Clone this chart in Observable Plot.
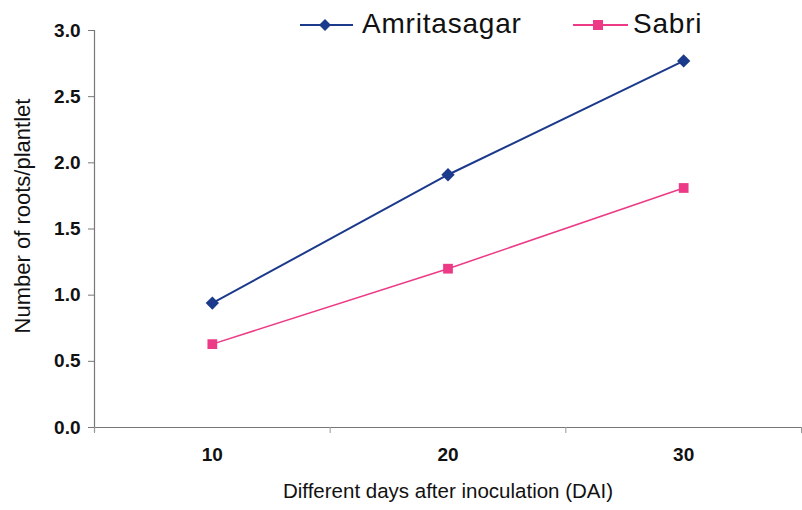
<!DOCTYPE html>
<html>
<head>
<meta charset="utf-8">
<script src="https://cdn.jsdelivr.net/npm/d3@7"></script>
<script src="https://cdn.jsdelivr.net/npm/@observablehq/plot@0.6"></script>
<style>
  html, body { margin: 0; padding: 0; background: #fff; }
  #wrap { position: relative; width: 802px; height: 510px; font-family: "Liberation Sans", Arial, sans-serif; }
  #legend { position: absolute; top: 0; left: 0; pointer-events: none; }
</style>
</head>
<body>
<div id="wrap">
  <div id="chart"></div>
  <svg id="legend" width="802" height="50"></svg>
</div>
<script>
const days = [10, 20, 30];
const seriesNames = ["Amritasagar", "Sabri"];
const amritasagar = [0.94, 1.91, 2.77];
const sabri = [0.63, 1.20, 1.81];
const yTicks = [0, 0.5, 1.0, 1.5, 2.0, 2.5, 3.0];
const xBoundaries = [5, 15, 25, 35];
const colors = {Amritasagar: "#1c3a8c", Sabri: "#ec3a86"};

const data = [];
days.forEach((d, i) => {
  data.push({day: d, value: amritasagar[i], series: "Amritasagar"});
  data.push({day: d, value: sabri[i], series: "Sabri"});
});

const font = "Liberation Sans, Arial, sans-serif";

const chart = Plot.plot({
  width: 802,
  height: 510,
  marginLeft: 94,
  marginRight: 1,
  marginTop: 30,
  marginBottom: 83,
  style: {fontFamily: font, fontSize: "16px", color: "#111", background: "#fff"},
  x: {type: "linear", domain: [5, 35]},
  y: {domain: [0, 3]},
  marks: [
    Plot.ruleY([0], {stroke: "#777", strokeWidth: 1.2}),
    Plot.ruleX([5], {y1: -0.04, y2: 3, stroke: "#777", strokeWidth: 1.2}),
    Plot.axisY({ticks: yTicks, tickFormat: d => d.toFixed(1), tickSize: 6, tickPadding: 8, stroke: "#777", fontSize: 19, fontWeight: "bold", label: null}),
    Plot.axisX({ticks: xBoundaries, tickFormat: () => "", tickSize: 6, stroke: "#999", label: null}),
    Plot.axisX({ticks: days, tickSize: 0, tickPadding: 20, fontSize: 19, fontWeight: "bold", label: null}),
    Plot.text(["Number of roots/plantlet"], {frameAnchor: "left", textAnchor: "middle", dx: -72, dy: -13, rotate: -90, fontSize: 22, fill: "#111"}),
    Plot.text(["Different days after inoculation (DAI)"], {frameAnchor: "bottom", dy: 70, fontSize: 20.5, fill: "#111"}),
    Plot.line(data.filter(d => d.series === "Sabri"), {x: "day", y: "value", stroke: colors.Sabri, strokeWidth: 1.5}),
    Plot.line(data.filter(d => d.series === "Amritasagar"), {x: "day", y: "value", stroke: colors.Amritasagar, strokeWidth: 2}),
    Plot.dot(data.filter(d => d.series === "Sabri"), {x: "day", y: "value", symbol: "square", r: 5.5, fill: colors.Sabri, stroke: "none"}),
    Plot.dot(data.filter(d => d.series === "Amritasagar"), {x: "day", y: "value", symbol: "diamond2", r: 6, fill: colors.Amritasagar, stroke: "none"})
  ]
});
document.getElementById("chart").appendChild(chart);

// Legend (overlapping top of plot, as in the reference)
const lg = d3.select("#legend");
const legendItems = [
  {name: seriesNames[0], x1: 300, x2: 353, mx: 325, tx: 362},
  {name: seriesNames[1], x1: 573, x2: 628, mx: 598, tx: 633}
];
legendItems.forEach(it => {
  const c = colors[it.name];
  lg.append("line").attr("x1", it.x1).attr("x2", it.x2).attr("y1", 25).attr("y2", 25)
    .attr("stroke", c).attr("stroke-width", 2);
  if (it.name === "Amritasagar") {
    lg.append("path").attr("d", `M${it.mx},${19} L${it.mx + 6},${25} L${it.mx},${31} L${it.mx - 6},${25}Z`).attr("fill", c);
  } else {
    lg.append("rect").attr("x", it.mx - 5).attr("y", 20).attr("width", 10).attr("height", 10).attr("fill", c);
  }
  lg.append("text").attr("x", it.tx).attr("y", 23).attr("dominant-baseline", "central")
    .attr("font-family", font).attr("font-size", 28).attr("letter-spacing", "0.8px")
    .attr("fill", "#111").text(it.name);
});
</script>
</body>
</html>
